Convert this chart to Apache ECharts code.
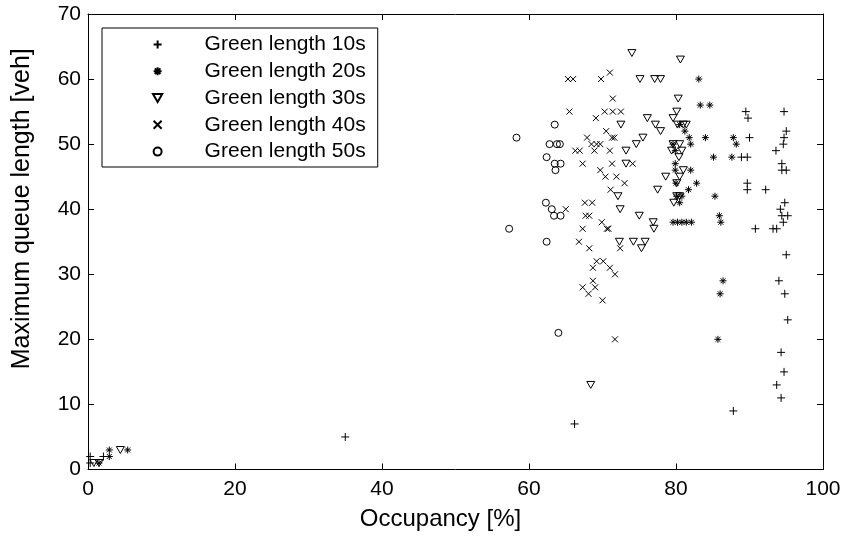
<!DOCTYPE html>
<html>
<head>
<meta charset="utf-8">
<script src="https://cdn.jsdelivr.net/npm/echarts@6/dist/echarts.min.js"></script>
<style>
html,body{margin:0;padding:0;background:#fff;}
#chart{width:846px;height:543px;}
</style>
</head>
<body>
<div id="chart"></div>
<script>
// ---- data (Occupancy [%], Maximum queue length [veh]) ----
const seriesNames = ['Green length 10s','Green length 20s','Green length 30s','Green length 40s','Green length 50s'];
const xTicks = [0,20,40,60,80,100];
const yTicks = [0,10,20,30,40,50,60,70];

const green10 = [[0.3,1],[0.3,2],[2.1,2],[35,5],[66.2,7],[87.8,9],[89.5,55],[89.8,54],[94.7,55],[95,52],[94.7,51],[90,51],[94.6,50],[93.6,49],[88.9,48],[89.7,48],[94.4,47],[94.4,46],[95,46],[89.7,44],[89.7,43],[92.2,43],[94.8,41],[94.2,40],[94.4,39],[95.2,39],[94.6,38],[90.8,37],[93.2,37],[93.7,37],[95,33],[94,29],[94.8,27],[95.2,23],[94.3,18],[94.7,15],[93.7,13],[94.3,11]];

const green20 = [[1.5,1],[2.9,2],[2.9,3],[5.4,3],[83.1,60],[83.3,56],[84.6,56],[84,51],[87.8,51],[88.2,50],[85.1,48],[87.6,48],[80.5,53],[81.2,52],[81.8,51],[82,50],[79.6,50],[79.9,49],[79.9,47],[79.9,46],[82,46],[80,44],[82.8,44],[81.7,43],[80.1,42],[80.8,42],[85.3,42],[80.5,41],[79.6,38],[80.2,38],[80.8,38],[81.4,38],[82.1,38],[85.9,39],[86.1,38],[86.4,29],[86,27],[85.7,20]];

const green30 = [[0.8,1],[1.5,1],[4.4,3],[74,64],[80.6,63],[75.1,60],[77.1,60],[77.9,60],[80.3,57],[80.1,55],[76.1,54],[79.6,54],[77.2,53],[72.5,53],[80.2,53],[81,53],[81.4,53],[77.9,52],[75.5,51],[74.6,50],[79.6,50],[80.5,50],[79.4,49],[80.8,49],[73.2,49],[80.4,48],[73.2,47],[81,46],[78.6,45],[80.5,45],[80.1,44],[77.5,43],[72.1,42],[80.1,42],[80.5,42],[79.7,41],[72.4,40],[75,39],[76.9,38],[77,37],[72.3,35],[74.2,35],[75.8,35],[75.3,34],[68.4,13]];

const green40 = [[65.3,60],[66,60],[69.8,60],[71,61],[71.4,57],[65.5,55],[70.3,55],[71.4,55],[72.5,55],[69.1,54],[70.5,52],[71.3,51],[71.6,51],[67.9,51],[68.5,50],[69.2,50],[69.7,50],[68.9,49],[66.3,49],[66.9,49],[71,49],[67.3,47],[71.3,47],[74.1,47],[69.7,46],[70.4,45],[71.9,45],[73,44],[71.1,43],[67.6,41],[68.6,41],[65,40],[67.7,39],[68.2,39],[67.3,37],[69.9,38],[70.6,37],[70.8,37],[66.8,35],[68.2,34],[72.4,34],[69.2,32],[70.1,32],[68.7,31],[71,31],[71.7,30],[68.7,29],[67.3,28],[69,28],[68.1,27],[70,26],[71.7,20]];

const green50 = [[58.3,51],[63.5,53],[62.8,50],[63.8,50],[64.2,50],[62.4,48],[63.5,47],[64.3,47],[63.6,46],[62.3,41],[63.1,40],[63.4,39],[64.3,39],[57.3,37],[62.4,35],[64,21]];

// ---- styling ----
const FONT = "'Liberation Sans', Arial, Helvetica, sans-serif";
const SYM_PLUS = 'path://M5,0L5,10M0,5L10,5';
const SYM_STAR = 'path://M5,0L5,10M0,5L10,5M1.5,1.5L8.5,8.5M8.5,1.5L1.5,8.5';
const SYM_TRI = 'path://M0,0L10,0L5,8.66Z';
const SYM_X = 'path://M0,0L10,10M10,0L0,10';

function mkSeries(name, data, symbol, size){
  return {
    name: name, type: 'scatter', data: data, symbol: symbol, symbolSize: size,
    symbolKeepAspect: true,
    itemStyle: {color: 'rgba(0,0,0,0)', borderColor: '#000', borderWidth: 1, opacity: 1},
    emphasis: {disabled: true},
    silent: true
  };
}

const axisCommon = {
  type: 'value',
  axisLine: {show: true, onZero: false, lineStyle: {color: '#000', width: 1}},
  axisTick: {show: true, inside: true, length: 6, lineStyle: {color: '#000', width: 1}},
  splitLine: {show: false}
};

const chart = echarts.init(document.getElementById('chart'), null, {renderer: 'canvas'});
chart.setOption({
  animation: false,
  backgroundColor: '#fff',
  grid: {left: 88, right: 23, top: 14, bottom: 73.5, containLabel: false},
  xAxis: [
    Object.assign({}, axisCommon, {
      position: 'bottom', min: xTicks[0], max: xTicks[xTicks.length-1], interval: 20,
      axisLabel: {color: '#000', fontSize: 21, fontFamily: FONT, margin: 9},
      name: 'Occupancy [%]', nameLocation: 'middle', nameGap: 38,
      nameTextStyle: {color: '#000', fontSize: 24, fontFamily: FONT, padding: [0, 30, 0, 0]}
    }),
    Object.assign({}, axisCommon, {
      position: 'top', min: xTicks[0], max: xTicks[xTicks.length-1], interval: 20,
      axisLabel: {show: false}
    })
  ],
  yAxis: [
    Object.assign({}, axisCommon, {
      position: 'left', min: yTicks[0], max: yTicks[yTicks.length-1], interval: 10,
      axisLabel: {color: '#000', fontSize: 21, fontFamily: FONT, margin: 7},
      name: 'Maximum queue length [veh]', nameLocation: 'middle', nameGap: 53,
      nameTextStyle: {color: '#000', fontSize: 25, fontFamily: FONT, padding: [0, 0, 0, 66]}
    }),
    Object.assign({}, axisCommon, {
      position: 'right', min: yTicks[0], max: yTicks[yTicks.length-1], interval: 10,
      axisLabel: {show: false}
    })
  ],
  legend: {
    show: true, orient: 'vertical', left: 102, top: 28,
    backgroundColor: '#fff',
    borderColor: '#000', borderWidth: 1,
    padding: [3, 12, 2, 50],
    itemWidth: 84, itemHeight: 8, itemGap: 0,
    selectedMode: false,
    textStyle: {color: '#000', fontSize: 21, fontFamily: FONT, lineHeight: 26.8},
    data: seriesNames
  },
  series: [
    mkSeries(seriesNames[0], green10, SYM_PLUS, 8),
    mkSeries(seriesNames[1], green20, SYM_STAR, 7),
    mkSeries(seriesNames[2], green30, SYM_TRI, 8),
    mkSeries(seriesNames[3], green40, SYM_X, 6),
    mkSeries(seriesNames[4], green50, 'circle', 7)
  ]
});
</script>
</body>
</html>
